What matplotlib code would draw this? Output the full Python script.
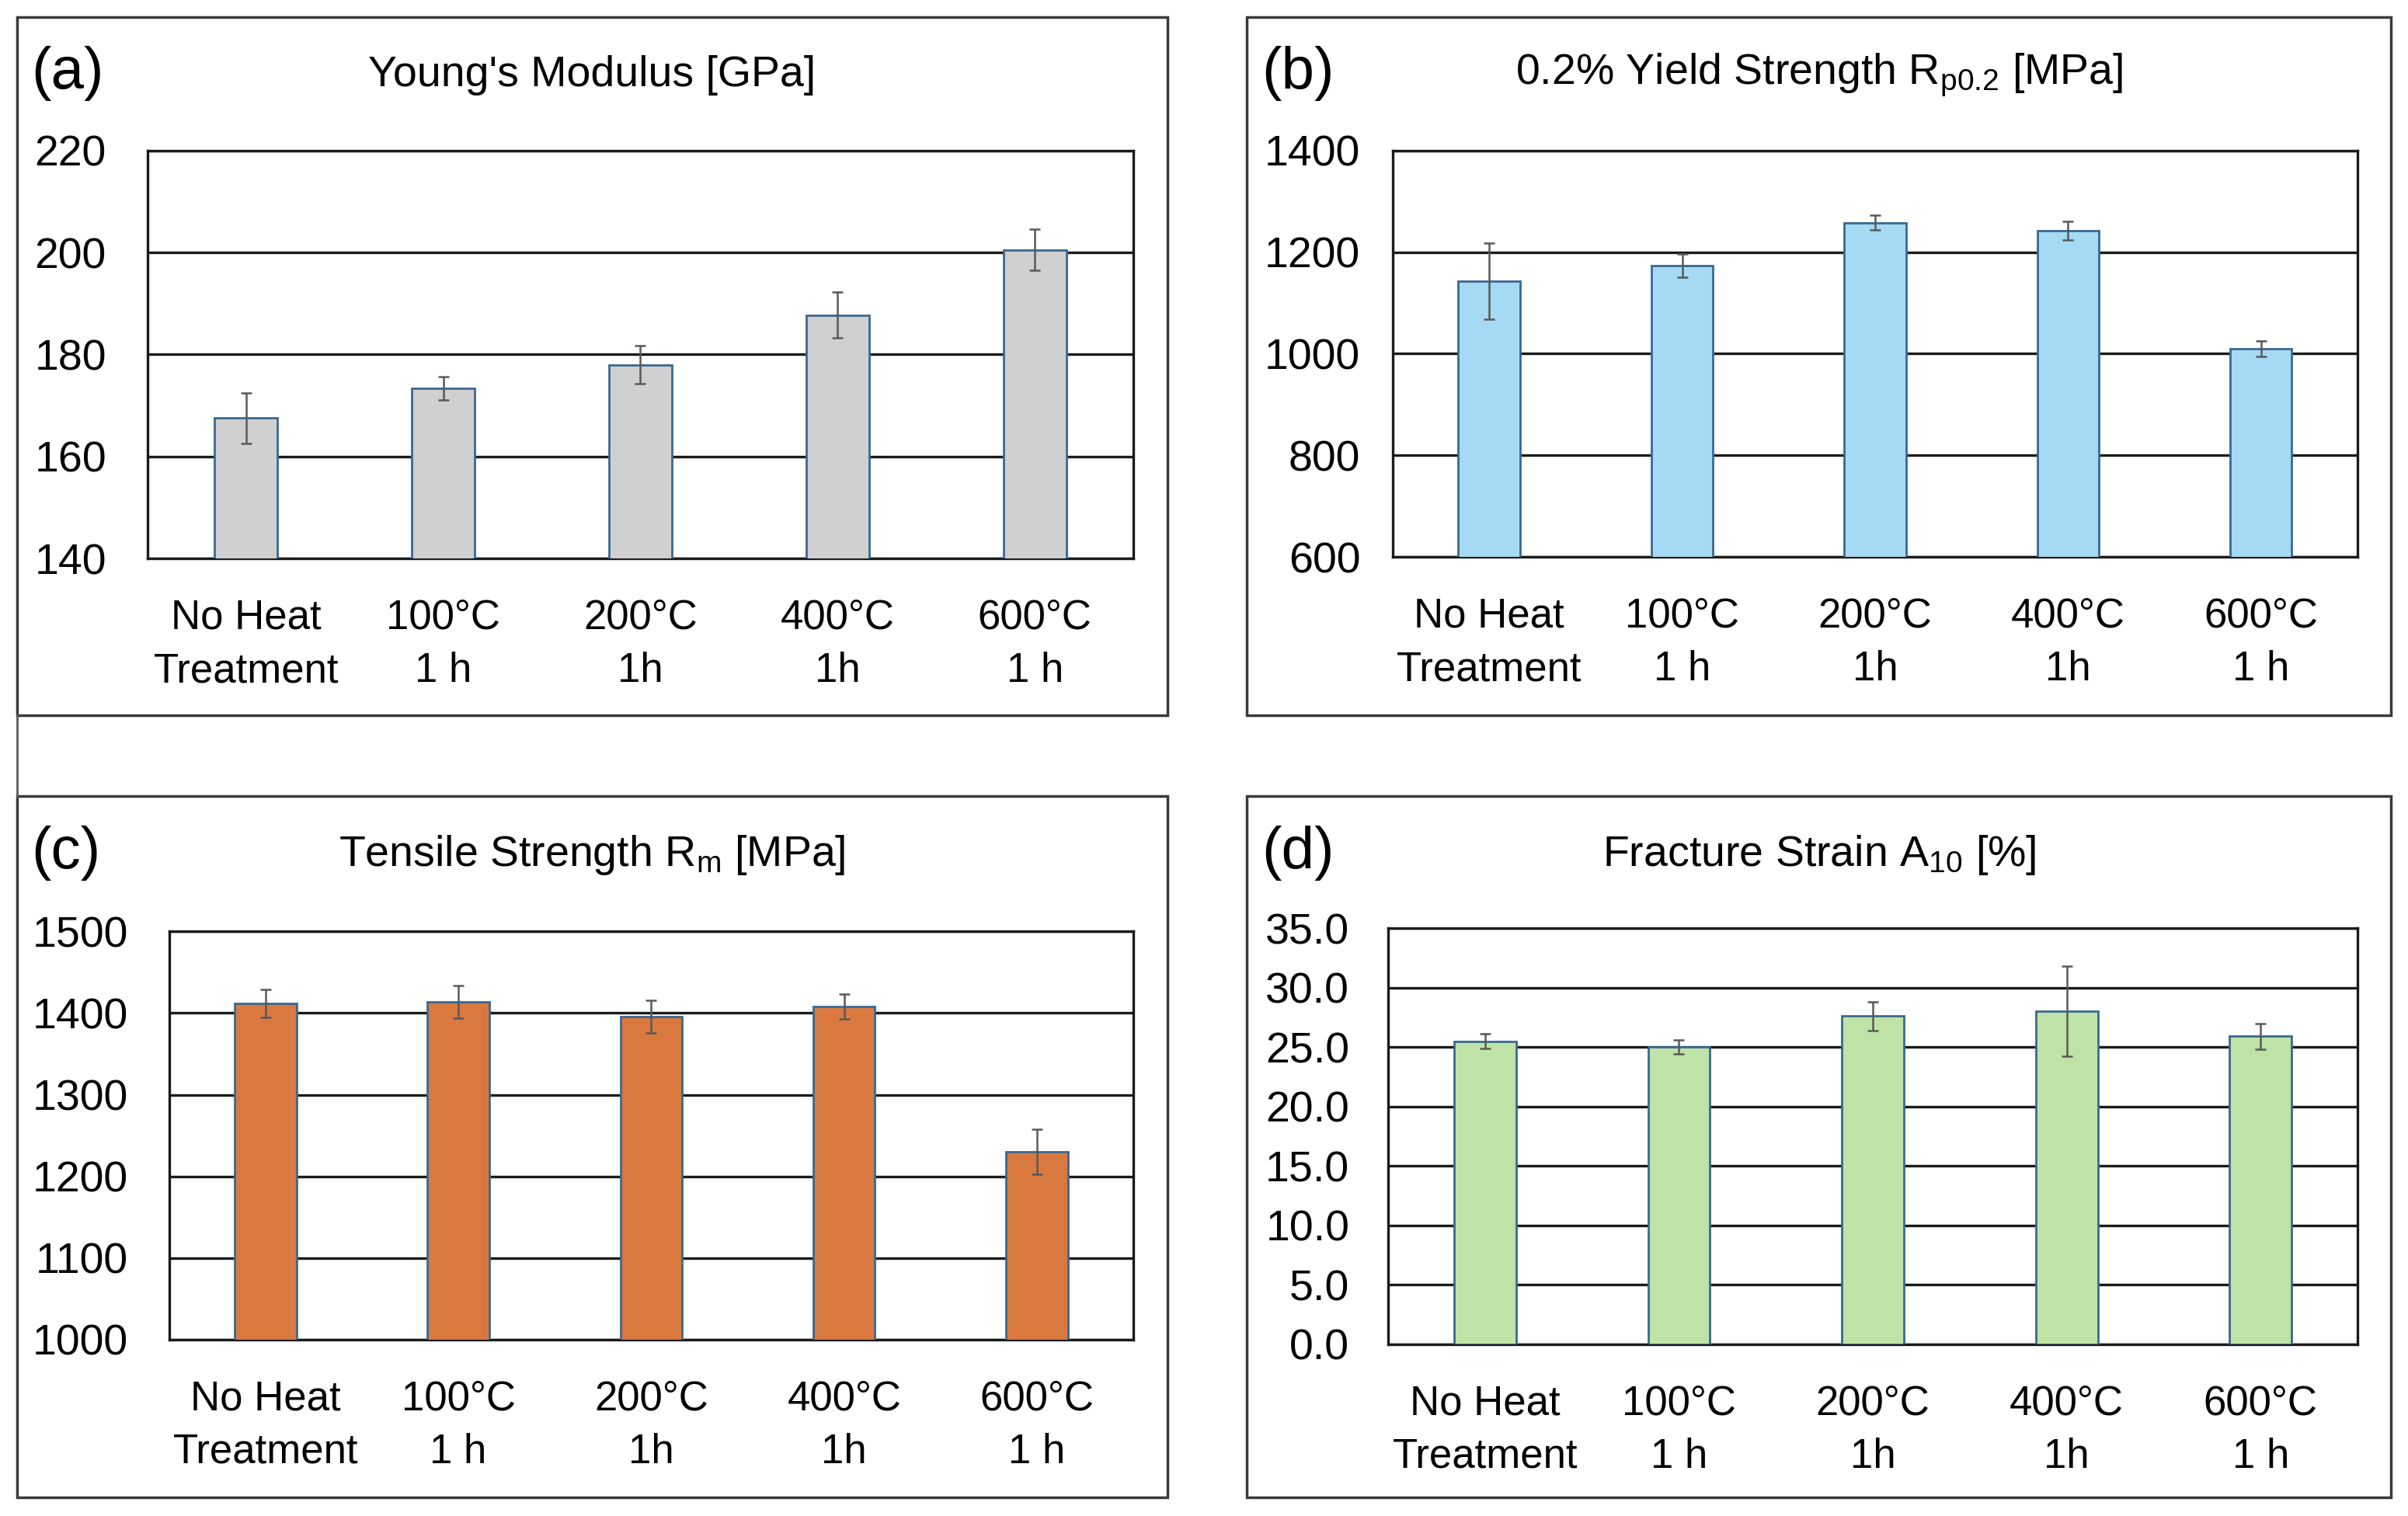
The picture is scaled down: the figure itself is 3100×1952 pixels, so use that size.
import matplotlib
matplotlib.use("Agg")
import matplotlib.pyplot as plt
from matplotlib.lines import Line2D
from matplotlib.patches import Rectangle

plt.rcParams['font.family'] = ['Liberation Sans Narrow', 'Liberation Sans', 'DejaVu Sans']
plt.rcParams['mathtext.default'] = 'regular'

categories = ["No Heat\nTreatment", "100°C\n1 h", "200°C\n1h", "400°C\n1h", "600°C\n1 h"]

youngs = [167.5, 173.3, 178.0, 187.7, 200.5]
youngs_err = [5.0, 2.3, 3.8, 4.5, 4.0]

yield_str = [1143, 1173, 1258, 1242, 1010]
yield_err = [75, 23, 15, 18, 15]

tensile = [1412, 1414, 1396, 1408, 1230]
tensile_err = [17, 20, 20, 15, 28]

strain = [25.5, 25.0, 27.6, 28.0, 25.9]
strain_err = [0.6, 0.6, 1.2, 3.8, 1.1]

panels = [
    ("(a)", "Young's Modulus [GPa]", youngs, youngs_err, "#d0d0d0",
     (140, 220), [140, 160, 180, 200, 220], "{:.0f}"),
    ("(b)", "0.2% Yield Strength $R_{p0.2}$ [MPa]", yield_str, yield_err, "#a6d9f3",
     (600, 1400), [600, 800, 1000, 1200, 1400], "{:.0f}"),
    ("(c)", "Tensile Strength $R_m$ [MPa]", tensile, tensile_err, "#d9793f",
     (1000, 1500), [1000, 1100, 1200, 1300, 1400, 1500], "{:.0f}"),
    ("(d)", "Fracture Strain $A_{10}$ [%]", strain, strain_err, "#bfe3a6",
     (0, 35), [0, 5, 10, 15, 20, 25, 30, 35], "{:.1f}"),
]

# figure-fraction layout: panel box, axes rect, tick pad
boxes = [(0.0071, 0.5283, 0.4776, 0.4606), (0.5179, 0.5283, 0.4751, 0.4606),
         (0.0071, 0.0121, 0.4776, 0.4626), (0.5179, 0.0121, 0.4751, 0.4626)]
axrects = [[0.0612, 0.6316, 0.4095, 0.2692], [0.5784, 0.6326, 0.4006, 0.2682],
           [0.0702, 0.1164, 0.4005, 0.2692], [0.5765, 0.1134, 0.4025, 0.2743]]
pads = [38, 30, 38, 36]

fig = plt.figure(figsize=(31, 19.52), dpi=100)

for (lab, title, vals, errs, col, ylim, ticks, fmt), box, rect, pad in zip(panels, boxes, axrects, pads):
    bx, by, bw, bh = box
    fig.patches.append(Rectangle((bx, by), bw, bh, transform=fig.transFigure,
                                 fill=False, edgecolor="#3a3a3a", linewidth=2.5))
    fig.text(bx + 0.006, by + bh - 0.0375, lab, fontsize=55, va="center", ha="left",
             family=['Liberation Sans', 'DejaVu Sans'])
    fig.text(bx + bw / 2, by + bh - 0.0385, title, fontsize=40, va="center", ha="center")

    ax = fig.add_axes(rect)
    x = range(len(vals))
    ax.bar(x, vals, width=0.32, color=col, edgecolor="#3a6890", linewidth=2.0, zorder=3)
    ax.errorbar(x, vals, yerr=errs, fmt="none", ecolor="#595959", elinewidth=1.8,
                capsize=5, capthick=1.8, zorder=4)
    ax.set_xlim(-0.5, len(vals) - 0.5)
    ax.set_ylim(*ylim)
    ax.set_yticks(ticks)
    ax.set_yticklabels([fmt.format(t) for t in ticks])
    ax.set_xticks(list(x))
    ax.set_xticklabels(categories, linespacing=1.48)
    ax.tick_params(axis="y", length=0, pad=pad, labelsize=40)
    ax.tick_params(axis="x", length=0, pad=37, labelsize=38)
    ax.yaxis.grid(True, color="#1a1a1a", linewidth=2.4, zorder=0)
    ax.set_axisbelow(True)
    for s in ax.spines.values():
        s.set_color("#1a1a1a")
        s.set_linewidth(2.4)

# stray border segment between (a) and (c)
fig.lines.append(Line2D([0.0071, 0.0071], [0.4747, 0.5283], transform=fig.transFigure,
                        color="#5a5a5a", linewidth=2))

fig.savefig("out.png", dpi=100, facecolor="white")
